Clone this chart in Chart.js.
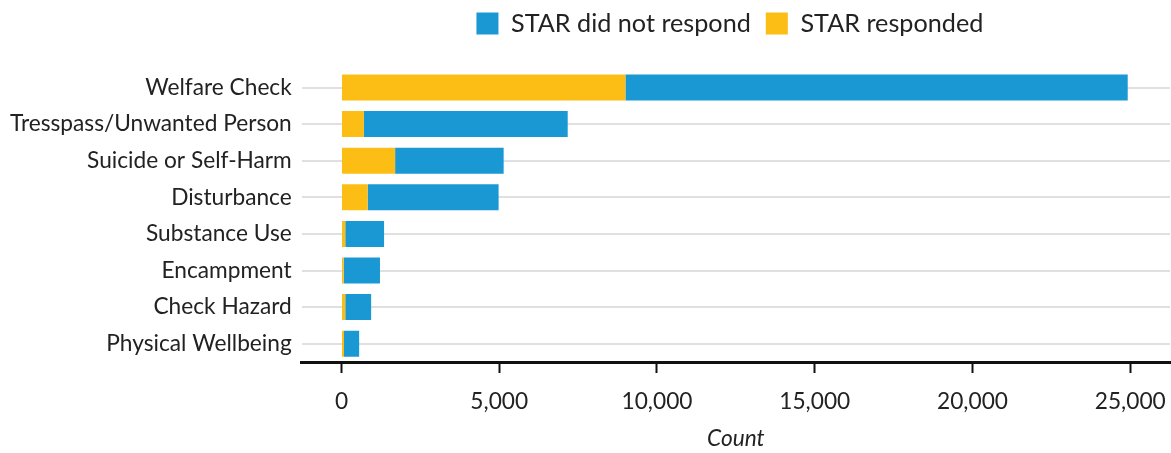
<!DOCTYPE html>
<html>
<head>
<meta charset="utf-8">
<script src="https://cdn.jsdelivr.net/npm/chart.js@4/dist/chart.umd.min.js"></script>
<style>
  html, body { margin: 0; padding: 0; background: #fff; }
  #wrap { width: 1171px; height: 453px; }
</style>
</head>
<body>
<div id="wrap"><canvas id="chart"></canvas></div>
<script>
// categories, top to bottom
const categories = ['Welfare Check', 'Tresspass/Unwanted Person', 'Suicide or Self-Harm', 'Disturbance',
  'Substance Use', 'Encampment', 'Check Hazard', 'Physical Wellbeing'];

// counts
const responded = [9000, 710, 1700, 830, 120, 70, 120, 80];
const notResponded = [15920, 6460, 3440, 4150, 1230, 1150, 820, 480];

const xTicks = [0, 5000, 10000, 15000, 20000, 25000];

const BLUE = '#1a98d4';
const YELLOW = '#fcbe14';
const FONT = 'Lato, "Noto Sans", sans-serif';

// legend: extra room below it, drawn a bit higher, centred over the plot area
const legendTweak = {
  id: 'legendTweak',
  beforeLayout(chart) {
    const lg = chart.legend;
    if (lg && !lg._tweaked) {
      const fit = lg.fit.bind(lg);
      lg.fit = function () { fit(); this.height += 17; };
      lg._tweaked = true;
    }
  },
  afterLayout(chart) {
    const lg = chart.legend;
    if (!lg) return;
    lg.left = chart.chartArea.left - 6;
    lg.right = chart.chartArea.right - 6;
    lg.top -= 6;
    lg.bottom -= 6;
  }
};

new Chart(document.getElementById('chart'), {
  type: 'bar',
  data: {
    labels: categories,
    datasets: [
      { label: 'STAR responded', data: responded, backgroundColor: YELLOW },
      { label: 'STAR did not respond', data: notResponded, backgroundColor: BLUE }
    ]
  },
  options: {
    indexAxis: 'y',
    responsive: true,
    maintainAspectRatio: false,
    animation: false,
    datasets: { bar: { categoryPercentage: 1, barPercentage: 0.71 } },
    layout: { padding: { left: 0, right: 1, top: 2, bottom: 0 } },
    plugins: {
      tooltip: { enabled: false },
      legend: {
        position: 'top',
        reverse: true,
        labels: {
          boxWidth: 22, boxHeight: 22,
          padding: 15,
          color: '#222',
          font: { family: FONT, size: 25.2 }
        }
      }
    },
    scales: {
      x: {
        stacked: true,
        min: -1260,
        max: 26260,
        afterBuildTicks: (scale) => { scale.ticks = xTicks.map(v => ({ value: v })); },
        afterFit: (scale) => {
          scale.height = 91;
          scale.paddingLeft = 0;
          scale.paddingRight = 0;
        },
        grid: {
          drawOnChartArea: false,
          drawTicks: true,
          tickLength: 11,
          tickColor: '#111',
          tickWidth: 2
        },
        border: { display: true, color: '#111', width: 3 },
        ticks: {
          color: '#222',
          padding: 15,
          font: { family: FONT, size: 22.7 }
        },
        title: {
          display: true,
          text: 'Count',
          color: '#222',
          padding: { top: 0, bottom: 1 },
          font: { family: FONT, size: 22.7, style: 'italic' }
        }
      },
      y: {
        stacked: true,
        grid: {
          offset: false,
          color: '#e0e0e0',
          lineWidth: 2,
          drawTicks: false
        },
        border: { display: false },
        ticks: {
          color: '#222',
          padding: 10,
          font: { family: FONT, size: 22.7 }
        }
      }
    }
  },
  plugins: [legendTweak]
});
</script>
</body>
</html>
